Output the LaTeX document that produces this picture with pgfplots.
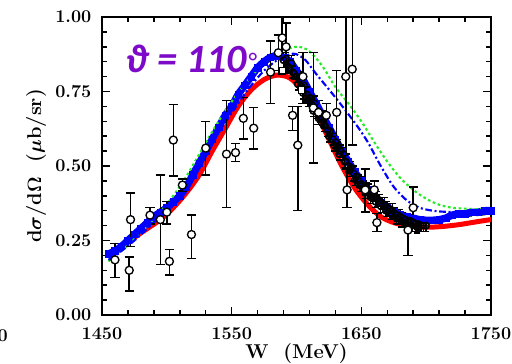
\documentclass[border=0pt]{standalone}
\usepackage{amsmath}
\usepackage{pgfplots}
\pgfplotsset{compat=1.18}
\usepackage{fontspec}
\newfontfamily\carlito{Carlito}
\definecolor{myred}{RGB}{255,0,0}
\definecolor{myblue}{RGB}{0,0,255}
\definecolor{mygreen}{RGB}{40,235,40}
\definecolor{mypurple}{RGB}{125,10,200}
\begin{document}
\begin{tikzpicture}
\useasboundingbox (-76.5pt,-36.75pt) rectangle (307.5pt,236.25pt);
\begin{axis}[
  scale only axis, width=291.75pt, height=223.5pt,
  xmin=1450, xmax=1750, ymin=0, ymax=1,
  xtick={1450,1550,1650,1750}, xticklabels={1450,1550,1650,1750},
  ytick={0,0.25,0.5,0.75,1}, yticklabels={0.00,0.25,0.50,0.75,1.00},
  minor x tick num=4, minor y tick num=4,
  tick align=inside,
  major tick length=6pt, minor tick length=3.75pt,
  tick style={black, line width=1.1pt},
  axis line style={line width=1.5pt},
  tick label style={font=\fontsize{13.5}{15}\selectfont\bfseries},
  xticklabel style={yshift=-6pt},
  yticklabel style={xshift=-4.5pt},
  xlabel={W~~(MeV)},
  ylabel={d$\boldsymbol{\sigma}$/d$\boldsymbol{\Omega}$~~($\boldsymbol{\mu}$b/sr)},
  label style={font=\fontsize{15}{17}\selectfont\bfseries},
  xlabel style={yshift=4pt},
  clip=true,
]
% red solid
\addplot[myred, line width=3.75pt, smooth] coordinates {
(1455,0.195) (1465,0.225) (1475,0.26) (1485,0.29) (1495,0.32) (1505,0.36)
(1515,0.41) (1525,0.47) (1535,0.55) (1545,0.625) (1555,0.70) (1565,0.755)
(1575,0.79) (1585,0.805) (1595,0.795) (1605,0.75) (1615,0.68) (1625,0.59)
(1635,0.50) (1645,0.425) (1655,0.37) (1665,0.33) (1675,0.31) (1685,0.30)
(1695,0.295) (1705,0.295) (1715,0.298) (1725,0.303) (1735,0.31) (1745,0.317) (1750,0.32)};
% blue band
\addplot[myblue, line width=5.5pt, mark=square*, mark size=2.4pt, mark options={line width=0.4pt}, smooth] coordinates {
(1455,0.205) (1460,0.215) (1465,0.23) (1470,0.25) (1475,0.27) (1480,0.29)
(1485,0.31) (1490,0.33) (1495,0.345) (1500,0.36) (1505,0.38) (1510,0.40)
(1515,0.43) (1520,0.47) (1525,0.51) (1530,0.55) (1535,0.59) (1540,0.63)
(1545,0.67) (1550,0.70) (1555,0.74) (1560,0.77) (1565,0.80) (1570,0.83)
(1575,0.85) (1580,0.865) (1585,0.87) (1590,0.865) (1595,0.85) (1600,0.82)
(1605,0.79) (1610,0.75) (1615,0.71) (1620,0.67) (1625,0.63) (1630,0.59)
(1635,0.55) (1640,0.515) (1645,0.48) (1650,0.45) (1655,0.42) (1660,0.398)
(1665,0.378) (1670,0.362) (1675,0.348) (1680,0.337) (1685,0.33) (1690,0.325)
(1695,0.32) (1700,0.318) (1705,0.318) (1710,0.32) (1715,0.325) (1720,0.335)
(1725,0.34) (1730,0.34) (1735,0.345) (1740,0.345) (1745,0.35) (1750,0.35)};
% black dashed
\addplot[black, line width=1.3pt, dash pattern=on 7pt off 3pt, smooth] coordinates {
(1600,0.81) (1620,0.66) (1640,0.51) (1660,0.40) (1680,0.34) (1700,0.325)
(1720,0.328) (1740,0.335) (1750,0.34)};
% green dotted
\addplot[mygreen, line width=1.6pt, dash pattern=on 2pt off 2pt, smooth] coordinates {
(1455,0.18) (1465,0.215) (1475,0.255) (1485,0.30) (1495,0.345) (1505,0.40)
(1515,0.465) (1525,0.54) (1535,0.615) (1545,0.685) (1555,0.745) (1565,0.80)
(1575,0.845) (1585,0.875) (1595,0.895) (1602,0.90) (1610,0.885) (1620,0.835)
(1630,0.765) (1640,0.71) (1650,0.65) (1660,0.58) (1670,0.515) (1680,0.46)
(1690,0.42) (1700,0.39) (1710,0.37) (1720,0.36) (1730,0.357) (1740,0.355) (1750,0.355)};
% blue dash-dot
\addplot[myblue, line width=1.6pt, dash pattern=on 5pt off 2pt on 1.5pt off 2pt, smooth] coordinates {
(1455,0.185) (1465,0.215) (1475,0.25) (1485,0.29) (1495,0.33) (1505,0.375)
(1515,0.435) (1525,0.505) (1535,0.58) (1545,0.645) (1555,0.71) (1565,0.77)
(1575,0.82) (1585,0.855) (1595,0.875) (1600,0.875) (1607,0.855) (1615,0.81)
(1630,0.73) (1645,0.645) (1655,0.58) (1665,0.50) (1675,0.43) (1685,0.385)
(1695,0.36) (1705,0.35) (1716,0.346) (1730,0.345) (1750,0.347)};
% dense black data band
\addplot[black, only marks, mark=o, mark size=2.4pt, line width=1.2pt,
  error bars/.cd, y dir=both, y explicit,
  error bar style={line width=1pt},
  error mark options={rotate=90, mark size=2.4pt, line width=1pt}]
  table[x=x, y=y, y error=e] {
x y e
1590 0.855 0.025
1592 0.86 0.02
1593 0.835 0.02
1594 0.83 0.02
1596 0.845 0.025
1597 0.815 0.02
1598 0.81 0.02
1600 0.80 0.02
1601 0.775 0.02
1602 0.79 0.025
1604 0.765 0.02
1605 0.745 0.02
1606 0.77 0.02
1608 0.74 0.025
1609 0.72 0.02
1610 0.73 0.02
1612 0.705 0.02
1613 0.685 0.02
1614 0.71 0.025
1616 0.68 0.02
1617 0.66 0.02
1618 0.665 0.02
1620 0.66 0.025
1621 0.635 0.02
1622 0.635 0.02
1624 0.62 0.02
1625 0.60 0.02
1626 0.615 0.025
1628 0.59 0.02
1629 0.57 0.02
1630 0.58 0.02
1632 0.565 0.025
1633 0.54 0.02
1634 0.55 0.02
1636 0.54 0.02
1637 0.515 0.02
1638 0.515 0.025
1640 0.50 0.02
1641 0.485 0.02
1642 0.495 0.02
1644 0.475 0.025
1645 0.455 0.02
1646 0.465 0.02
1648 0.45 0.02
1649 0.435 0.02
1650 0.44 0.025
1652 0.43 0.02
1653 0.41 0.02
1654 0.425 0.02
1656 0.415 0.025
1657 0.395 0.02
1658 0.405 0.02
1660 0.40 0.02
1661 0.38 0.02
1662 0.39 0.025
1664 0.385 0.02
1665 0.365 0.02
1666 0.375 0.02
1668 0.37 0.025
1669 0.35 0.02
1670 0.36 0.02
1672 0.355 0.02
1673 0.34 0.02
1674 0.35 0.025
1676 0.34 0.02
1677 0.325 0.02
1678 0.335 0.02
1680 0.33 0.025
1681 0.315 0.02
1682 0.325 0.02
1684 0.32 0.02
1685 0.305 0.02
1686 0.315 0.025
1688 0.315 0.02
1689 0.30 0.02
1690 0.31 0.02
1692 0.305 0.025
1693 0.295 0.02
1694 0.305 0.02
1696 0.30 0.02
1698 0.30 0.02
1700 0.30 0.02
};
% open circles with error bars
\addplot[black, only marks, mark=*, mark options={fill=white}, mark size=3pt, line width=1pt,
  error bars/.cd, y dir=both, y explicit,
  error bar style={line width=1.1pt},
  error mark options={rotate=90, mark size=3.5pt, line width=1.1pt}]
  table[x=x, y=y, y error plus=ep, y error minus=em] {
x y ep em
1460 0.185 0.055 0.06
1471 0.15 0.045 0.07
1472 0.32 0.09 0.09
1487 0.335 0.025 0.03
1495 0.32 0.15 0.15
1500 0.345 0.035 0.04
1502 0.18 0.04 0.045
1505 0.587 0.12 0.12
1512 0.436 0.02 0.02
1519 0.27 0.065 0.08
1530 0.56 0.09 0.09
1546 0.54 0.18 0.18
1553 0.545 0.03 0.03
1559 0.66 0.07 0.07
1567 0.627 0.07 0.07
1580 0.815 0.105 0.105
1586 0.88 0.06 0.06
1589 0.93 0.07 0.07
1592 0.90 0.08 0.08
1597 0.67 0.03 0.05
1601 0.57 0.13 0.22
1605 0.80 0.08 0.09
1613 0.695 0.185 0.185
1617 0.68 0.04 0.04
1623 0.67 0.04 0.04
1631 0.68 0.14 0.10
1638 0.80 0.25 0.26
1643 0.825 0.25 0.255
1639 0.42 0.07 0.06
1653 0.42 0.07 0.075
1660 0.42 0.03 0.03
1662 0.31 0.03 0.03
1686 0.285 0.05 0.085
1690 0.36 0.07 0.055
};
% open squares
\addplot[black, only marks, mark=square*, mark options={fill=white}, mark size=2.5pt, line width=1pt]
  coordinates {(1589,0.82) (1604,0.755)};
\end{axis}
\node[anchor=base west, inner sep=0pt, text=mypurple, font=\carlito\fontsize{30}{34}\selectfont\bfseries\itshape] at (17.5pt,182.2pt)
  {ϑ = 110\hspace{1pt}\raisebox{1pt}{\mdseries\upshape\fontsize{19}{19}\selectfont °}};
\node[anchor=north east, inner sep=0pt, font=\fontsize{13.5}{15}\selectfont\bfseries] at (-70.5pt,-10.5pt) {1750};
\end{tikzpicture}
\end{document}
